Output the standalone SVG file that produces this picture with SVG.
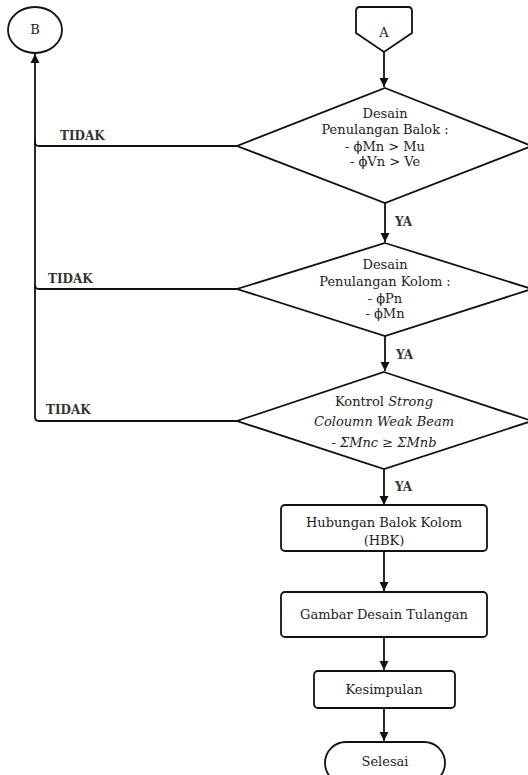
<svg xmlns="http://www.w3.org/2000/svg" width="528" height="775" viewBox="0 0 528 775">
<defs>
<marker id="arr" viewBox="0 0 10 10" refX="10" refY="5" markerWidth="9" markerHeight="11" markerUnits="userSpaceOnUse" orient="auto">
<path d="M0,0 L10,5 L0,10 z" fill="#111"/>
</marker>
</defs>
<style>
.s{fill:#fff;stroke:#111;stroke-width:1.8}
.c{fill:none;stroke:#111;stroke-width:1.8;marker-end:url(#arr)}
.l{fill:none;stroke:#111;stroke-width:1.8}
.t{font-family:"DejaVu Serif","Liberation Serif",serif;font-size:13px;fill:#222;text-anchor:middle}
.i{font-style:italic}
.b{font-family:"DejaVu Serif","Liberation Serif",serif;font-size:12px;font-weight:bold;fill:#333}
</style>
<rect width="528" height="775" fill="#fff"/>
<g id="connectors">
<path class="c" d="M384,52 V87"/>
<path class="c" d="M385,203 V242"/>
<path class="c" d="M385,336 V371"/>
<path class="c" d="M384,469 V505"/>
<path class="c" d="M384,551 V591"/>
<path class="c" d="M384,637 V670"/>
<path class="c" d="M384,708 V741"/>
<path class="c" d="M237,146 H39 Q35,146 35,142 V54"/>
<path class="l" d="M237,289 H39 Q35,289 35,285"/>
<path class="l" d="M237,421 H39 Q35,421 35,417 V140"/>
<text class="b" x="60" y="140">TIDAK</text>
<text class="b" x="48" y="283">TIDAK</text>
<text class="b" x="46" y="414">TIDAK</text>
<text class="b" x="395" y="226">YA</text>
<text class="b" x="396" y="359">YA</text>
<text class="b" x="395" y="491">YA</text>
</g>
<g id="B">
<ellipse class="s" cx="35" cy="30" rx="27" ry="23"/>
<text class="t" x="35" y="34">B</text>
</g>
<g id="A">
<path class="s" d="M360,7 H408 Q412,7 412,11 V33 L384,52 L356,33 V11 Q356,7 360,7 z"/>
<text class="t" x="384" y="37">A</text>
</g>
<g id="d1">
<path class="s" d="M385,88 L532,146 L385,203 L237,146 z"/>
<text class="t" x="385" y="118">Desain</text>
<text class="t" x="385" y="134">Penulangan Balok :</text>
<text class="t" x="385" y="151">- ϕMn &gt; Mu</text>
<text class="t" x="385" y="166">- ϕVn &gt; Ve</text>
</g>
<g id="d2">
<path class="s" d="M385,243 L532,289 L385,336 L237,289 z"/>
<text class="t" x="385" y="269">Desain</text>
<text class="t" x="385" y="286">Penulangan Kolom :</text>
<text class="t" x="385" y="303">- ϕPn</text>
<text class="t" x="385" y="318">- ϕMn</text>
</g>
<g id="d3">
<path class="s" d="M384,372 L532,421 L384,469 L237,421 z"/>
<text class="t" x="384" y="406">Kontrol <tspan class="i">Strong</tspan></text>
<text class="t i" x="384" y="426">Coloumn Weak Beam</text>
<text class="t i" x="384" y="447">- ΣMnc ≥ ΣMnb</text>
</g>
<g id="hbk">
<rect class="s" x="281" y="505" width="206" height="46" rx="4"/>
<text class="t" x="384" y="527">Hubungan Balok Kolom</text>
<text class="t" x="384" y="545">(HBK)</text>
</g>
<g id="gambar">
<rect class="s" x="281" y="592" width="206" height="45" rx="4"/>
<text class="t" x="384" y="619">Gambar Desain Tulangan</text>
</g>
<g id="kesimpulan">
<rect class="s" x="314" y="671" width="141" height="37" rx="4"/>
<text class="t" x="384" y="694">Kesimpulan</text>
</g>
<g id="selesai">
<rect class="s" x="325" y="742" width="120" height="42" rx="21"/>
<text class="t" x="385" y="766">Selesai</text>
</g>
</svg>
